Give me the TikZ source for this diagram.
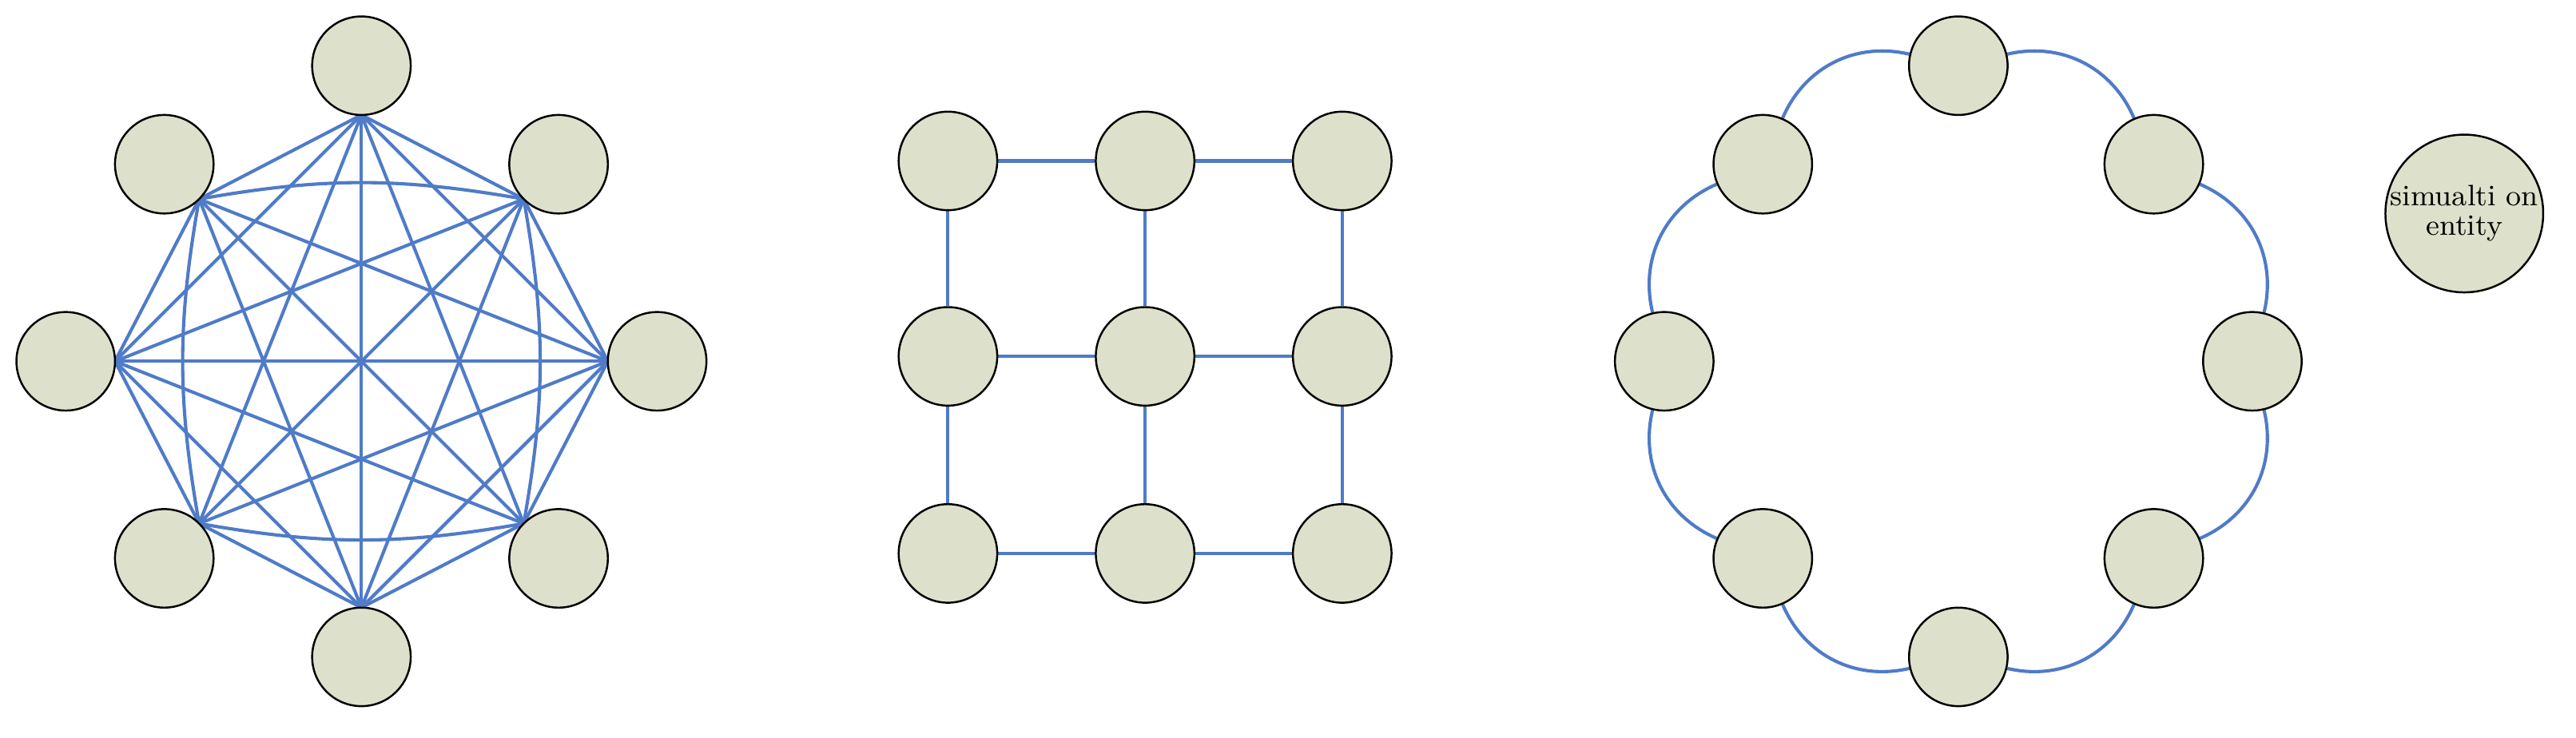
\documentclass[tikz,border=0pt]{standalone}
\usetikzlibrary{backgrounds,calc}
\definecolor{ec}{HTML}{4F7BC8}
\definecolor{nf}{HTML}{DDE1CB}
\begin{document}
\begin{tikzpicture}[x=0.5pt,y=-0.5pt,
  ent/.style={circle,draw=black,fill=nf,line width=0.6pt,minimum size=30pt,inner sep=0pt,align=center,font=\fontsize{9}{9}\selectfont},
  ed/.style={draw=ec,line width=1pt}]
\useasboundingbox (0,0) rectangle (1568,449);
% complete graph
\coordinate (c) at (220,220);
\foreach \n/\x/\y in {a1/220/40,a2/340/100,a3/400/220,a4/340/340,a5/220/400,a6/100/340,a7/40/220,a8/100/100}{
  \node[ent] (\n) at (\x,\y) {};
  \coordinate (p\n) at ($(\n.center)!15pt!(c)$);}
% grid
\foreach \i/\x in {1/577,2/697,3/817}
  \foreach \j/\y in {1/98,2/217,3/337}
    \node[ent] (g\i\j) at (\x,\y) {};
% ring
\foreach \n/\x/\y in {r1/1192/40,r2/1311/100,r3/1371/220,r4/1311/340,r5/1192/400,r6/1073/340,r7/1013/220,r8/1073/100}
  \node[ent] (\n) at (\x,\y) {};
\node[ent] (se) at (1500,130) {simualti on\\entity};
\begin{scope}[on background layer]
\foreach \i/\j in {1/2,1/3,1/4,1/5,1/6,1/7,1/8,2/3,2/5,2/6,2/7,3/4,3/5,3/6,3/7,3/8,4/5,4/7,4/8,5/6,5/7,5/8,6/7,7/8}
  \draw[ed] (pa\i) -- (pa\j);
\draw[ed] (pa8) to[bend left=10] (pa2);
\draw[ed] (pa2) to[bend left=10] (pa4);
\draw[ed] (pa4) to[bend left=10] (pa6);
\draw[ed] (pa6) to[bend left=10] (pa8);
\foreach \i/\j in {1/2,2/3,3/4,4/5,5/6,6/7,7/8,8/1}
  \draw[ed] (r\i) to[bend left=40] (r\j);
\foreach \i in {1,2,3}{
  \draw[ed] (g1\i) -- (g2\i) -- (g3\i);
  \draw[ed] (g\i1) -- (g\i2) -- (g\i3);}
\end{scope}
\end{tikzpicture}
\end{document}
